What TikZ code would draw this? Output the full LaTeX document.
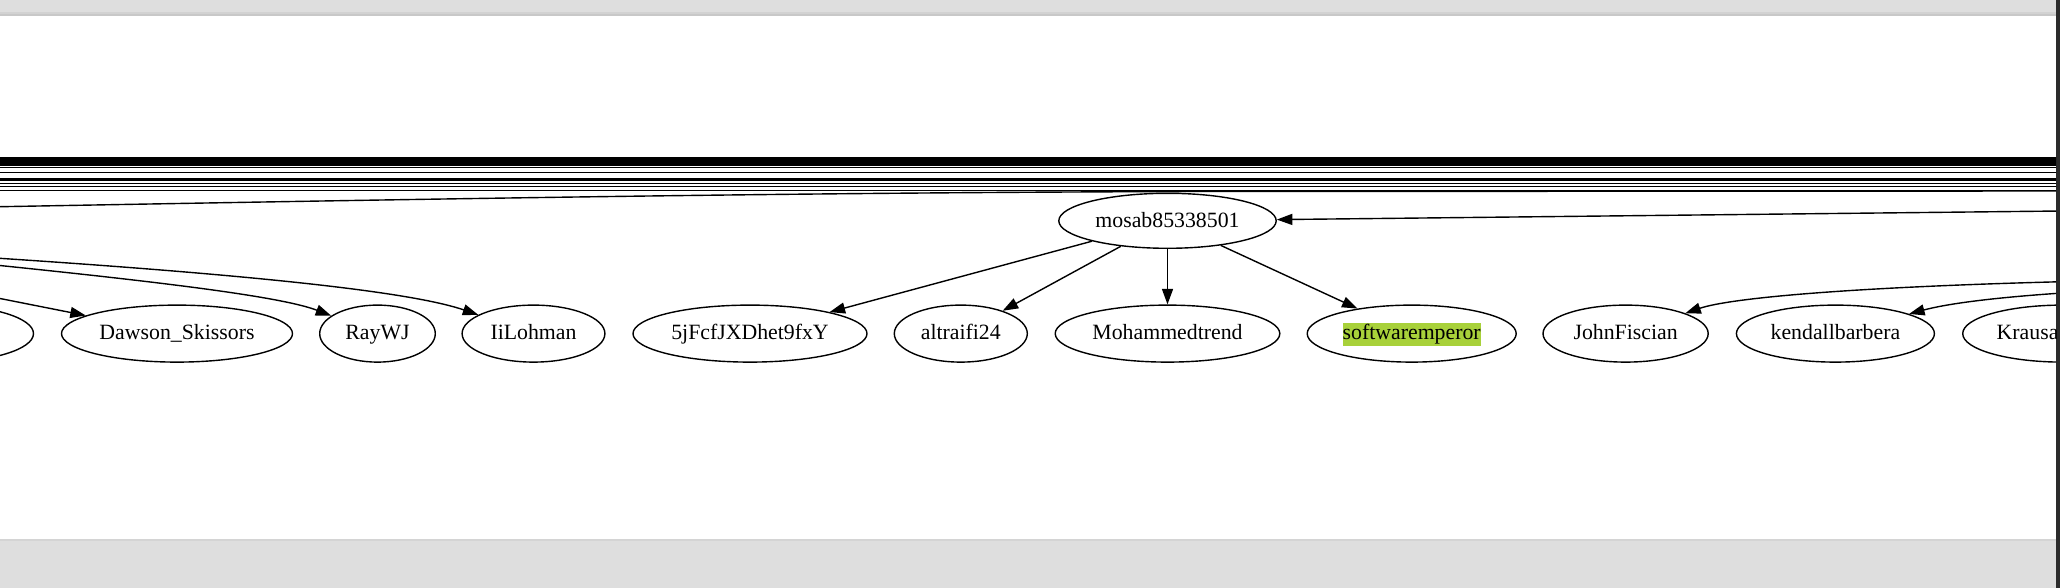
\documentclass[tikz,border=0pt]{standalone}
\usepackage{fontspec}
\setmainfont{Liberation Serif}
\usetikzlibrary{shapes.geometric,arrows.meta}
\definecolor{pagegray}{HTML}{DEDEDE}
\definecolor{shadowa}{HTML}{D2D2D2}
\definecolor{shadowb}{HTML}{C8C8C8}
\definecolor{bottomline}{HTML}{D4D4D4}
\definecolor{framedark}{HTML}{2B2B2B}
\definecolor{hl}{HTML}{A8D13A}
\begin{document}
\begin{tikzpicture}[x=1pt,y=-1pt,
  gnode/.style={draw, line width=1.4pt, ellipse, inner sep=0pt, minimum height=57pt,
    font=\fontsize{21.8}{26}\selectfont, text height=17.7pt, text depth=5pt},
  gedge/.style={line width=1.4pt, -{Triangle[length=15.5pt,width=11pt]}},
  pass/.style={line width=1.4pt},
]
\useasboundingbox (0,0) rectangle (2060,588);
% browser frame
\fill[pagegray] (0,0) rectangle (2060,588);
\fill[shadowa] (0,12.5) rectangle (2056,14);
\fill[shadowb] (0,14) rectangle (2056,16);
\fill[white] (0,16) rectangle (2056,539);
\fill[bottomline] (0,539) rectangle (2056,541);
\fill[framedark] (2056,0) rectangle (2060,588);

\begin{scope}
\clip (0,16) rectangle (2056,539);
% nodes
\node[gnode, minimum width=187pt] (leftcut) at (-60,333.6) {};
\node[gnode, minimum width=231pt] (dawson) at (177,333.6) {Dawson\_Skissors};
\node[gnode, minimum width=115.6pt] (raywj) at (377.5,333.6) {RayWJ};
\node[gnode, minimum width=142.8pt] (ilohman) at (533.5,333.6) {IiLohman};
\node[gnode, minimum width=234pt] (fjx) at (750,333.6) {5jFcfJXDhet9fxY};
\node[gnode, minimum width=133pt] (altraifi) at (960.8,333.6) {altraifi24};
\node[gnode, minimum width=224.6pt] (mohammed) at (1167.5,333.6) {Mohammedtrend};
\node[gnode, minimum width=209pt] (software) at (1411.7,333.6)
  {{\fboxsep=0pt\colorbox{hl}{\rule[-5.6pt]{0pt}{22.7pt}softwaremperor}}};
\node[gnode, minimum width=165.2pt] (john) at (1625.6,333.6) {JohnFiscian};
\node[gnode, minimum width=198pt] (kendall) at (1835.4,333.6) {kendallbarbera};
\node[gnode, minimum width=200pt] (krausa) at (2062.7,333.6) {\makebox[132pt][l]{Krausa}};
\node[gnode, minimum width=217.4pt, minimum height=55pt] (mosab) at (1167.5,220.8) {mosab85338501};

% passing bundle of edges
\foreach \yy in {157.5,159,160.5,162,163.5,165,167.7,172.5,179,180.5,183.3,186.3,190.7}
  \draw[pass] (-5,\yy) -- (2070,\yy);
\coordinate (slA) at (-5,206.8);
\coordinate (slB) at (2070,191);
\draw[pass] (slA) .. controls (450,198.5) and (800,192.5) .. (1200,191.5) -- (slB);

% mosab children
\draw[gedge] (mosab) -- (fjx);
\draw[gedge] (mosab) -- (altraifi);
\draw[gedge] (mosab) -- (mohammed);
\draw[gedge] (mosab) -- (software);
\coordinate (rin) at (2070,210.9);
\draw[gedge] (rin) -- (mosab);

% edges from the left
\coordinate (lI) at (-5,258);
\coordinate (lR) at (-5,265);
\coordinate (lD) at (-5,297.5);
\draw[gedge] (lI) .. controls (300,278) and (420,295) .. (ilohman);
\draw[gedge] (lR) .. controls (150,281) and (280,296) .. (raywj);
\draw[gedge] (lD) -- (dawson);

% edges from the right
\coordinate (rJ) at (2070,281.5);
\coordinate (rK) at (2070,292.5);
\draw[gedge] (rJ) .. controls (1850,287) and (1730,298) .. (john);
\draw[gedge] (rK) .. controls (2000,297) and (1950,303) .. (kendall);
\end{scope}
\end{tikzpicture}
\end{document}
